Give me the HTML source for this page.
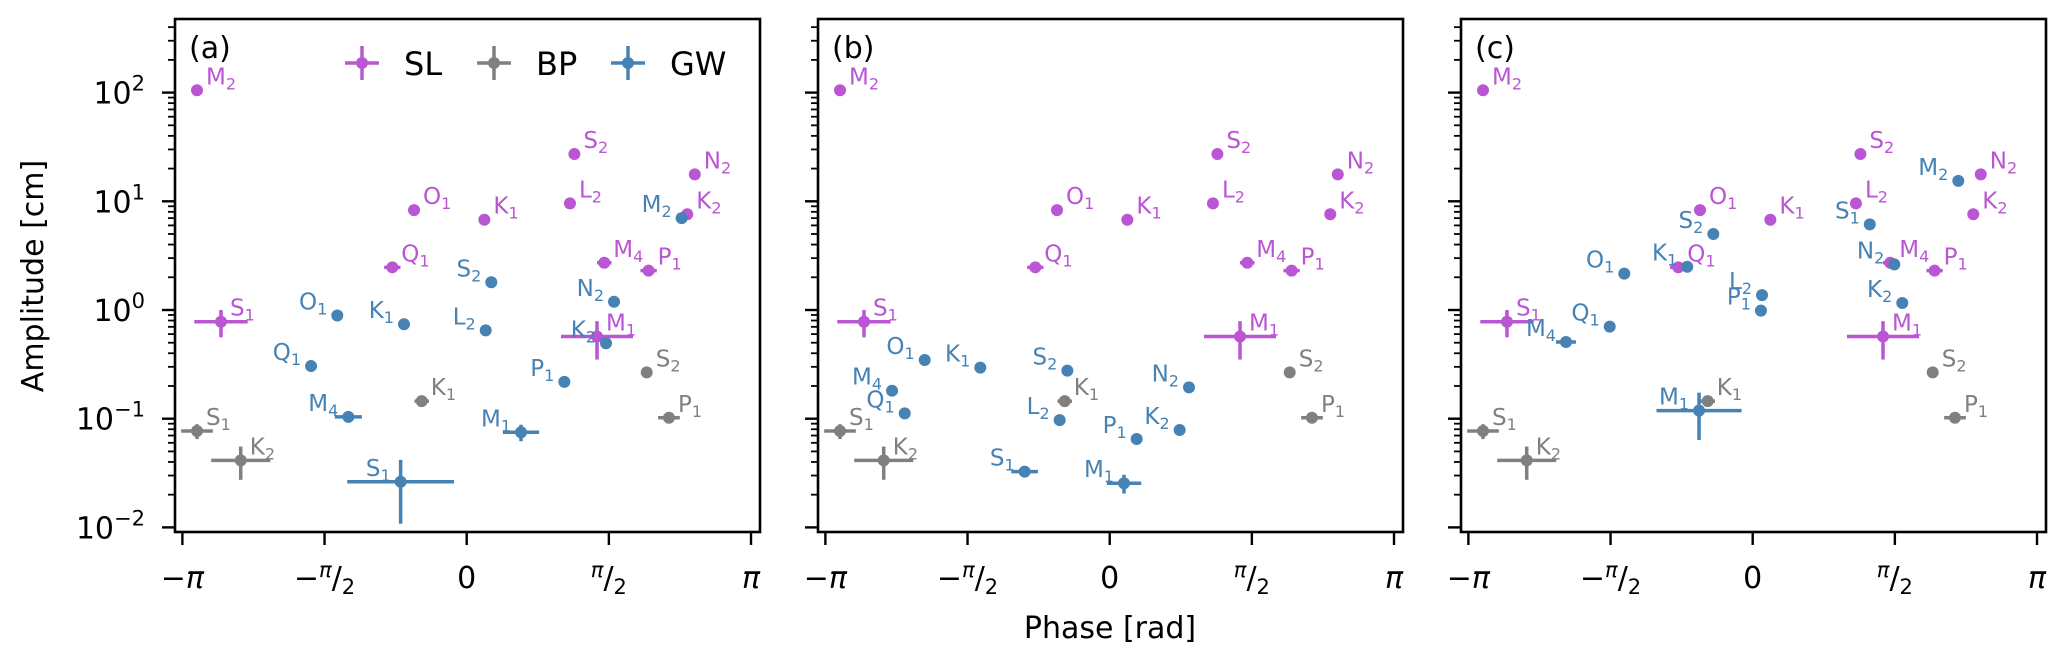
<!DOCTYPE html>
<html><head><meta charset="utf-8">
<style>
html,body{margin:0;padding:0;background:#fff;}
svg{display:block;}
text{font-family:"DejaVu Sans","Liberation Sans",sans-serif;}
</style></head>
<body>
<svg id="fig" xmlns="http://www.w3.org/2000/svg" width="2067" height="661" viewBox="0 0 2067 661"></svg>
<script>
// ---- data ----
const slNames = ["M2","S1","Q1","O1","K1","S2","L2","N2","K2","M4","P1","M1"];
const slPhase = [-2.98,-2.715,-0.822,-0.582,0.195,1.19,1.141,2.52,2.437,1.52,2.01,1.44];
const slAmp = [105,0.78,2.47,8.3,6.77,27.2,9.57,17.7,7.6,2.72,2.3,0.57];
const slPhaseErr = [0,0.295,0.09,0,0,0,0,0,0,0.08,0.09,0.398];
const slAmpErr = [0,0.22,0,0,0,0,0,0,0,0,0,0.22];

const bpNames = ["S1","K2","K1","S2","P1"];
const bpPhase = [-2.98,-2.497,-0.497,1.989,2.235];
const bpAmp = [0.077,0.0414,0.145,0.267,0.102];
const bpPhaseErr = [0.175,0.326,0.08,0,0.12];
const bpAmpErr = [0.012,0.014,0,0,0];

const gwaNames = ["O1","K1","Q1","M4","S1","S2","L2","N2","K2","P1","M1","M2"];
const gwaPhase = [-1.43,-0.693,-1.72,-1.308,-0.73,0.272,0.21,1.628,1.539,1.079,0.6,2.375];
const gwaAmp = [0.89,0.74,0.305,0.104,0.0263,1.8,0.65,1.19,0.494,0.218,0.075,7.0];
const gwaPhaseErr = [0,0,0,0.15,0.59,0,0,0,0,0,0.2,0];
const gwaAmpErr = [0,0,0,0,0.0155,0,0,0,0,0,0.013,0];

const gwbNames = ["O1","K1","M4","Q1","S2","L2","N2","K2","P1","S1","M1"];
const gwbPhase = [-2.044,-1.43,-2.405,-2.265,-0.468,-0.553,0.876,0.773,0.298,-0.94,0.158];
const gwbAmp = [0.347,0.295,0.181,0.112,0.277,0.097,0.194,0.0787,0.065,0.0326,0.0255];
const gwbPhaseErr = [0,0,0,0,0,0,0,0,0,0.147,0.19];
const gwbAmpErr = [0,0,0,0,0,0,0,0,0,0,0.005];

const gwcNames = ["M2","S2","O1","K1","L2","P1","S1","N2","K2","Q1","M4","M1"];
const gwcPhase = [2.272,-0.435,-1.419,-0.723,0.103,0.091,1.294,1.565,1.653,-1.58,-2.063,-0.593];
const gwcAmp = [15.4,5.0,2.16,2.5,1.37,0.986,6.14,2.63,1.16,0.703,0.508,0.1186];
const gwcPhaseErr = [0,0,0,0,0,0,0,0,0,0,0.11,0.47];
const gwcAmpErr = [0,0,0,0,0,0,0,0,0,0,0,0.055];

const panelLabels = ["(a)","(b)","(c)"];
const yTickExps = [2,1,0,-1,-2];
const legendNames = ["SL","BP","GW"];

// ---- layout ----
const NS = "http://www.w3.org/2000/svg";
const svg = document.getElementById("fig");
const panelLefts = [175, 818, 1461];
const PW = 585, TOP = 19, BOT = 532;
const C_SL = "#BA55D3", C_BP = "#808080", C_GW = "#4682B4";
const xScale = (left, ph) => left + 291.7 + ph * 90.5;
const yScale = a => 310 - Math.log10(a) * 108.7;

function mk(tag, attrs, parent) {
  const e = document.createElementNS(NS, tag);
  for (const k in attrs) e.setAttribute(k, attrs[k]);
  (parent || svg).appendChild(e);
  return e;
}

function subLabel(g, x, y, name, color, anchor) {
  const t = mk("text", {x: x, y: y, fill: color, "font-size": 23, "text-anchor": anchor}, g);
  const a = mk("tspan", {}, t); a.textContent = name[0];
  const b = mk("tspan", {"font-size": 16, dy: 5}, t); b.textContent = name.slice(1);
  return t;
}

function series(left, names, ph, amp, pe, ae, color, labelLeft, key) {
  const g = mk("g", {});
  
  
  for (let i = 0; i < names.length; i++) {
    const cx = xScale(left, ph[i]), cy = yScale(amp[i]);
    if (pe[i] > 0) {
      const l = mk("line", {x1: xScale(left, ph[i]-pe[i]), x2: xScale(left, ph[i]+pe[i]), y1: cy, y2: cy, stroke: color, "stroke-width": 3.5}, g);
      
      
    }
    if (ae[i] > 0) {
      const lo = Math.max(amp[i]-ae[i], 0.001);
      const l = mk("line", {x1: cx, x2: cx, y1: yScale(lo), y2: yScale(amp[i]+ae[i]), stroke: color, "stroke-width": 3.5}, g);
      
      
    }
    const c = mk("circle", {cx: cx, cy: cy, r: 6, fill: color}, g);
    
    
    const t = labelLeft ? subLabel(g, cx - 10, cy - 6, names[i], color, "end")
                        : subLabel(g, cx + 9, cy - 6, names[i], color, "start");
    
    
  }
}

const xTicks = [[-Math.PI,"neg-pi"],[-Math.PI/2,"neg-half-pi"],[0,"zero"],[Math.PI/2,"half-pi"],[Math.PI,"pi"]];

panelLefts.forEach((left, p) => {
  const g = mk("g", {});
  
  
  for (let d = -3; d <= 2; d++) {
    for (let m = 1; m <= 9; m++) {
      const v = m * Math.pow(10, d);
      const y = yScale(v);
      if (y < TOP || y > BOT) continue;
      const len = m === 1 ? 13 : 7;
      mk("line", {x1: left - len, x2: left, y1: y, y2: y, stroke: "#000", "stroke-width": m === 1 ? 2.4 : 1.8}, g);
    }
  }
  if (p === 0) {
    yTickExps.forEach(e => {
      const y = yScale(Math.pow(10, e));
      const t = mk("text", {x: 145, y: y + 11, "font-size": 30, "text-anchor": "end", fill: "#000"}, g);
      
      
      const a = mk("tspan", {}, t); a.textContent = "10";
      const b = mk("tspan", {"font-size": 21, dy: -13}, t); b.textContent = e < 0 ? "\u2212" + (-e) : String(e);
    });
  }
  xTicks.forEach(([v, nm]) => {
    const x = xScale(left, v);
    mk("line", {x1: x, x2: x, y1: BOT, y2: BOT + 13, stroke: "#000", "stroke-width": 2.4}, g);
    const t = mk("text", {y: 588, "font-size": 30, fill: "#000", "text-anchor": "middle", x: x}, g);
    
    
    if (nm === "neg-pi") {
      const s = mk("tspan", {}, t); s.textContent = "\u2212";
      const q = mk("tspan", {"font-style": "italic"}, t); q.textContent = "\u03C0";
    }
    else if (nm === "pi") { const q = mk("tspan", {"font-style": "italic"}, t); q.textContent = "\u03C0"; }
    else if (nm === "zero") { t.textContent = "0"; }
    else {
      if (nm === "neg-half-pi") { const s = mk("tspan", {}, t); s.textContent = "\u2212"; }
      const a = mk("tspan", {"font-size": 21, dy: -11, "font-style": "italic"}, t); a.textContent = "\u03C0";
      const b = mk("tspan", {dy: 11}, t); b.textContent = "/";
      const c = mk("tspan", {"font-size": 21, dy: 6}, t); c.textContent = "2";
    }
  });
  series(left, slNames, slPhase, slAmp, slPhaseErr, slAmpErr, C_SL, false, 'sl');
  series(left, bpNames, bpPhase, bpAmp, bpPhaseErr, bpAmpErr, C_BP, false, 'bp');
  if (p === 0) series(left, gwaNames, gwaPhase, gwaAmp, gwaPhaseErr, gwaAmpErr, C_GW, true, 'gw');
  if (p === 1) series(left, gwbNames, gwbPhase, gwbAmp, gwbPhaseErr, gwbAmpErr, C_GW, true, 'gw');
  if (p === 2) series(left, gwcNames, gwcPhase, gwcAmp, gwcPhaseErr, gwcAmpErr, C_GW, true, 'gw');
  const fr = mk("rect", {x: left, y: TOP, width: PW, height: BOT - TOP, fill: "none", stroke: "#000", "stroke-width": 2.6}, g);
  
  
  const pl = mk("text", {x: left + 14, y: 58, "font-size": 30, fill: "#000"}, g);
  pl.textContent = panelLabels[p];
  
  
});

const legX = [362, 494, 628];
const legC = [C_SL, C_BP, C_GW];
const lg = mk("g", {});


legendNames.forEach((n, i) => {
  const e = mk("g", {}, lg);
  
  
  mk("line", {x1: legX[i] - 17, x2: legX[i] + 17, y1: 63, y2: 63, stroke: legC[i], "stroke-width": 3.5}, e);
  mk("line", {x1: legX[i], x2: legX[i], y1: 46, y2: 80, stroke: legC[i], "stroke-width": 3.5}, e);
  mk("circle", {cx: legX[i], cy: 63, r: 6, fill: legC[i]}, e);
  const t = mk("text", {x: legX[i] + 42, y: 75, "font-size": 32, fill: "#000"}, e);
  t.textContent = n;
});

const yt = mk("text", {x: 0, y: 0, "font-size": 30, fill: "#000", "text-anchor": "middle", transform: "translate(43,276) rotate(-90)"});
yt.textContent = "Amplitude [cm]";


const xt = mk("text", {x: 1110, y: 638, "font-size": 30, fill: "#000", "text-anchor": "middle"});
xt.textContent = "Phase [rad]";


</script>
</body></html>
